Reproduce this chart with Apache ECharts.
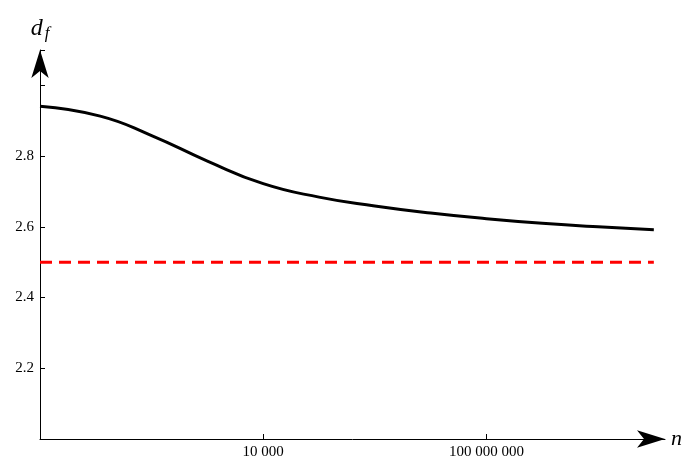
<!DOCTYPE html>
<html>
<head>
<meta charset="utf-8">
<script src="https://cdn.jsdelivr.net/npm/echarts@6/dist/echarts.min.js"></script>
<style>html,body{margin:0;padding:0;background:#fff}#main{width:689px;height:468px}</style>
</head>
<body>
<div id="main"></div>
<script>
// n values and fractal dimension
var nValues = [1, 12, 100, 1000, 10000, 100000, 1e6, 1e7, 1e8, 1e9, 1e10, 1e11];
var dfValues = [2.941, 2.913, 2.858, 2.786, 2.722, 2.684, 2.659, 2.639, 2.623, 2.610, 2.600, 2.592];
var limitValue = 2.5;
var yTicks = [2.2, 2.4, 2.6, 2.8];
var xTicks = [10000, 100000000];

var myChart = echarts.init(document.getElementById("main"));
var font = "Liberation Serif";

function group(v) {
  return String(Math.round(v)).replace(/\B(?=(\d{3})+(?!\d))/g, " ");
}

myChart.setOption({
  animation: false,
  grid: { left: 40, right: 24, top: 50, bottom: 29, outerBoundsMode: "none", containLabel: false },
  xAxis: {
    type: "log",
    logBase: 10,
    min: 1,
    max: Math.pow(10, 11.2),
    interval: 4,
    name: "n",
    nameGap: 6,
    nameTextStyle: { fontFamily: font, fontStyle: "italic", fontSize: 22, color: "#000", verticalAlign: "middle" },
    axisLine: { lineStyle: { color: "#000", width: 1 }, symbol: ["none", "arrow"], symbolSize: [13, 28] },
    axisTick: { inside: true, length: 5, lineStyle: { color: "#000" } },
    minorTick: { show: false },
    splitLine: { show: false },
    axisLabel: {
      fontFamily: font, fontSize: 15, color: "#000", margin: 6, showMaxLabel: false,
      formatter: function (v) {
        for (var i = 0; i < xTicks.length; i++) {
          if (Math.abs(v / xTicks[i] - 1) < 1e-6) return group(xTicks[i]);
        }
        return "";
      }
    }
  },
  yAxis: {
    type: "value",
    min: 2.0,
    max: 3.1,
    interval: 0.2,
    name: "{d|d}{f|f}",
    nameLocation: "end",
    nameGap: 8,
    nameTextStyle: {
      align: "center",
      rich: {
        d: { fontFamily: font, fontStyle: "italic", fontSize: 24, color: "#000" },
        f: { fontFamily: font, fontStyle: "italic", fontSize: 17, color: "#000", padding: [10, 0, 0, 2] }
      }
    },
    axisLine: { show: true, lineStyle: { color: "#000", width: 1 }, symbol: ["none", "arrow"], symbolSize: [13, 28] },
    axisTick: { inside: true, length: 5, lineStyle: { color: "#000" } },
    splitLine: { show: false },
    axisLabel: {
      fontFamily: font, fontSize: 15, color: "#000", margin: 6,
      formatter: function (v) {
        var r = Math.round(v * 10) / 10;
        return yTicks.indexOf(r) >= 0 ? r.toFixed(1) : "";
      }
    }
  },
  series: [
    {
      type: "line",
      smooth: true,
      symbol: "none",
      data: nValues.map(function (n, i) { return [n, dfValues[i]]; }),
      lineStyle: { color: "#000", width: 3 }
    },
    {
      type: "line",
      symbol: "none",
      data: [[1, limitValue], [1e11, limitValue]],
      lineStyle: { color: "#f00", width: 3, type: [12, 7] }
    }
  ]
});
</script>
</body>
</html>
